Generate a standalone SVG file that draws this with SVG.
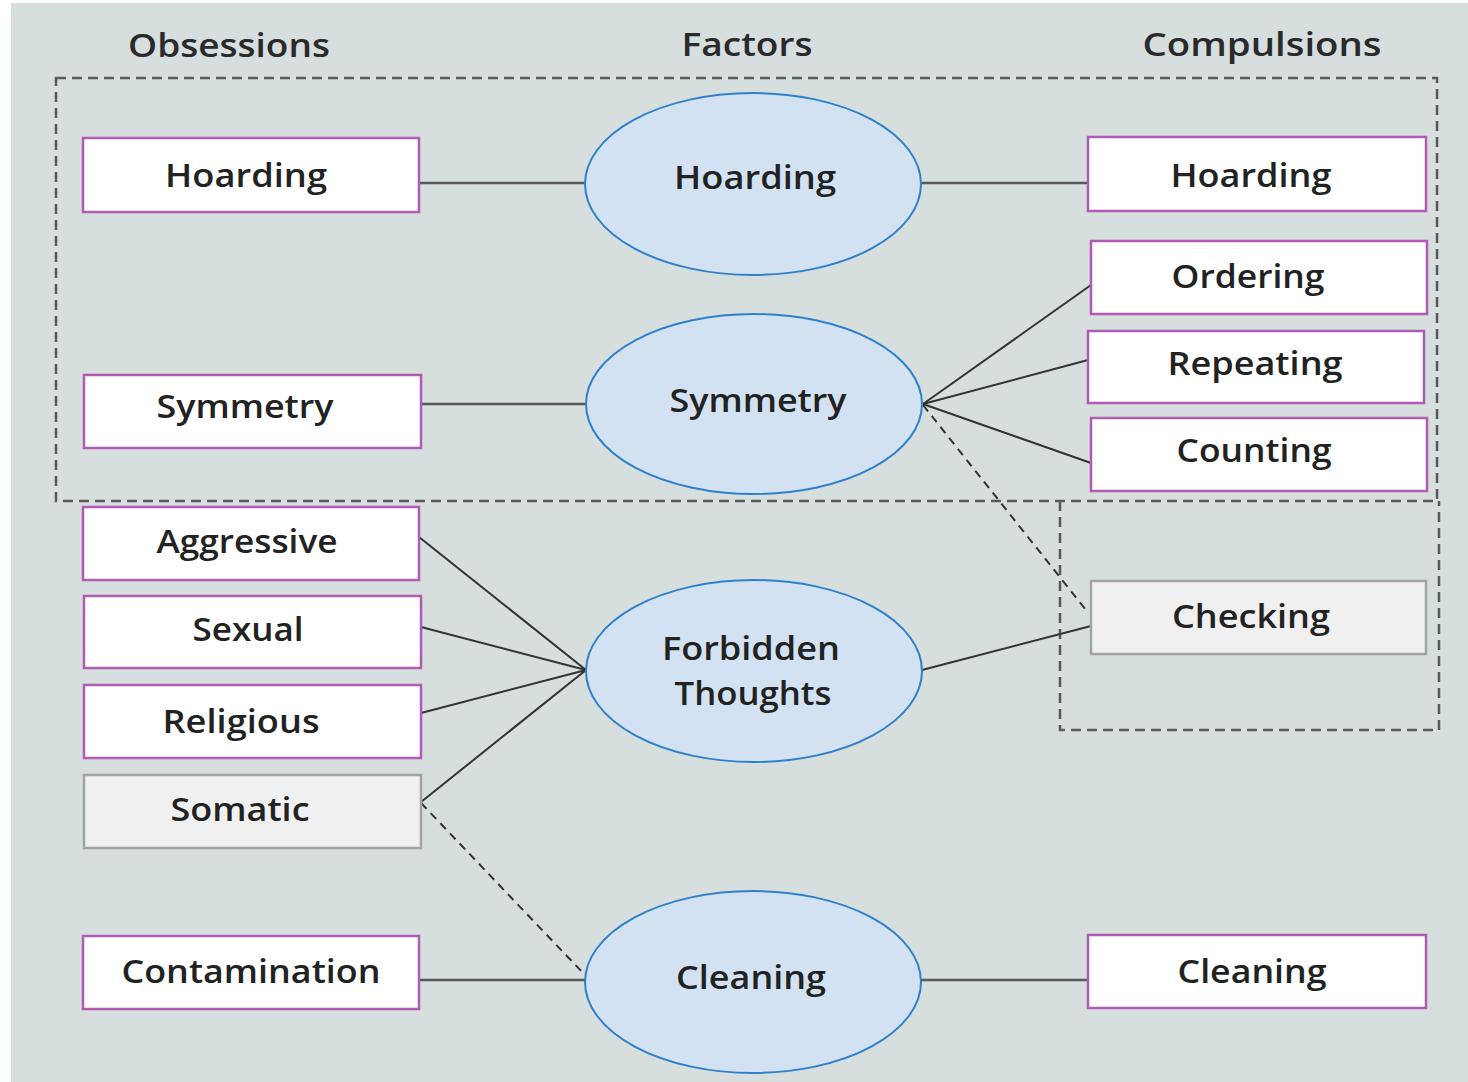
<svg xmlns="http://www.w3.org/2000/svg" width="1468" height="1082" viewBox="0 0 1468 1082">
  <defs>
    <style>
      .bg { fill: #d6dede; }
      .box { fill: #ffffff; stroke: #b05cb4; stroke-width: 2.5; }
      .box-grey { fill: #f0f0f0; stroke: #a3a3a3; stroke-width: 2.5; }
      .factor { fill: #d3e2f2; stroke: #2f80cc; stroke-width: 2; }
      .group { fill: none; stroke: #5a5a5a; stroke-width: 2.5; stroke-dasharray: 10 6; }
      .link { fill: none; stroke: #333333; stroke-width: 2; }
      .link-h { fill: none; stroke: #5a5a5a; stroke-width: 2.5; }
      .link-dash { fill: none; stroke: #333333; stroke-width: 2; stroke-dasharray: 8 6; }
      text { font-family: "Open Sans", "Noto Sans", "DejaVu Sans", sans-serif; font-weight: 600; font-size: 32px; fill: #222222; text-anchor: middle; }
      .head { font-size: 33px; fill: #2a2a2a; }
    </style>
  </defs>

  <rect width="1468" height="1082" fill="#ffffff"/>
  <rect class="bg" x="11" y="3" width="1457" height="1079"/>

  <!-- column headings -->
  <text class="head" x="229" y="57" textLength="202" lengthAdjust="spacingAndGlyphs">Obsessions</text>
  <text class="head" x="747" y="56" textLength="131" lengthAdjust="spacingAndGlyphs">Factors</text>
  <text class="head" x="1262" y="56" textLength="239" lengthAdjust="spacingAndGlyphs">Compulsions</text>

  <!-- dashed groupings -->
  <g id="groups">
    <rect class="group" x="56" y="78" width="1381" height="423"/>
    <path class="group" d="M1060,501 V730 H1439 V501"/>
  </g>

  <!-- connectors -->
  <g id="connectors">
    <line class="link-h" x1="419" y1="183" x2="586" y2="183"/>
    <line class="link-h" x1="921" y1="183" x2="1088" y2="183"/>
    <line class="link-h" x1="421" y1="404" x2="586" y2="404"/>
    <line class="link" x1="923" y1="404" x2="1091" y2="285"/>
    <line class="link" x1="923" y1="404" x2="1088" y2="360"/>
    <line class="link" x1="923" y1="404" x2="1091" y2="463"/>
    <line class="link-dash" x1="923" y1="405" x2="1086" y2="610"/>
    <line class="link" x1="419" y1="537" x2="586" y2="670"/>
    <line class="link" x1="421" y1="627" x2="586" y2="670"/>
    <line class="link" x1="421" y1="713" x2="586" y2="670"/>
    <line class="link" x1="421" y1="802" x2="586" y2="670"/>
    <line class="link" x1="922" y1="670" x2="1091" y2="626"/>
    <line class="link-dash" x1="421" y1="803" x2="585" y2="975"/>
    <line class="link-h" x1="419" y1="980" x2="586" y2="980"/>
    <line class="link-h" x1="921" y1="980" x2="1088" y2="980"/>
  </g>

  <!-- obsessions -->
  <g id="obs-hoarding">
    <rect class="box" x="83" y="138" width="336" height="74"/>
    <text x="246" y="187" textLength="162" lengthAdjust="spacingAndGlyphs">Hoarding</text>
  </g>
  <g id="obs-symmetry">
    <rect class="box" x="84" y="375" width="337" height="73"/>
    <text x="245" y="418" textLength="177" lengthAdjust="spacingAndGlyphs">Symmetry</text>
  </g>
  <g id="obs-aggressive">
    <rect class="box" x="83" y="507" width="336" height="73"/>
    <text x="247" y="553" textLength="181" lengthAdjust="spacingAndGlyphs">Aggressive</text>
  </g>
  <g id="obs-sexual">
    <rect class="box" x="84" y="596" width="337" height="72"/>
    <text x="248" y="641" textLength="111" lengthAdjust="spacingAndGlyphs">Sexual</text>
  </g>
  <g id="obs-religious">
    <rect class="box" x="84" y="685" width="337" height="73"/>
    <text x="241" y="733" textLength="157" lengthAdjust="spacingAndGlyphs">Religious</text>
  </g>
  <g id="obs-somatic">
    <rect class="box-grey" x="84" y="775" width="337" height="73"/>
    <text x="240" y="821" textLength="139" lengthAdjust="spacingAndGlyphs">Somatic</text>
  </g>
  <g id="obs-contamination">
    <rect class="box" x="83" y="936" width="336" height="73"/>
    <text x="251" y="983" textLength="259" lengthAdjust="spacingAndGlyphs">Contamination</text>
  </g>

  <!-- factors -->
  <g id="factor-hoarding">
    <ellipse class="factor" cx="753" cy="184" rx="168" ry="91"/>
    <text x="755" y="189" textLength="162" lengthAdjust="spacingAndGlyphs">Hoarding</text>
  </g>
  <g id="factor-symmetry">
    <ellipse class="factor" cx="754" cy="404" rx="168" ry="90"/>
    <text x="758" y="412" textLength="177" lengthAdjust="spacingAndGlyphs">Symmetry</text>
  </g>
  <g id="factor-forbidden">
    <ellipse class="factor" cx="754" cy="671" rx="168" ry="91"/>
    <text x="751" y="660" textLength="178" lengthAdjust="spacingAndGlyphs">Forbidden</text>
    <text x="753" y="705" textLength="157" lengthAdjust="spacingAndGlyphs">Thoughts</text>
  </g>
  <g id="factor-cleaning">
    <ellipse class="factor" cx="753" cy="982" rx="168" ry="91"/>
    <text x="751" y="989" textLength="150" lengthAdjust="spacingAndGlyphs">Cleaning</text>
  </g>

  <!-- compulsions -->
  <g id="comp-hoarding">
    <rect class="box" x="1088" y="137" width="338" height="74"/>
    <text x="1251" y="187" textLength="161" lengthAdjust="spacingAndGlyphs">Hoarding</text>
  </g>
  <g id="comp-ordering">
    <rect class="box" x="1091" y="241" width="336" height="73"/>
    <text x="1248" y="288" textLength="153" lengthAdjust="spacingAndGlyphs">Ordering</text>
  </g>
  <g id="comp-repeating">
    <rect class="box" x="1088" y="331" width="336" height="72"/>
    <text x="1255" y="375" textLength="175" lengthAdjust="spacingAndGlyphs">Repeating</text>
  </g>
  <g id="comp-counting">
    <rect class="box" x="1091" y="418" width="336" height="73"/>
    <text x="1254" y="462" textLength="155" lengthAdjust="spacingAndGlyphs">Counting</text>
  </g>
  <g id="comp-checking">
    <rect class="box-grey" x="1091" y="581" width="335" height="73"/>
    <text x="1251" y="628" textLength="158" lengthAdjust="spacingAndGlyphs">Checking</text>
  </g>
  <g id="comp-cleaning">
    <rect class="box" x="1088" y="935" width="338" height="73"/>
    <text x="1252" y="983" textLength="149" lengthAdjust="spacingAndGlyphs">Cleaning</text>
  </g>
</svg>
